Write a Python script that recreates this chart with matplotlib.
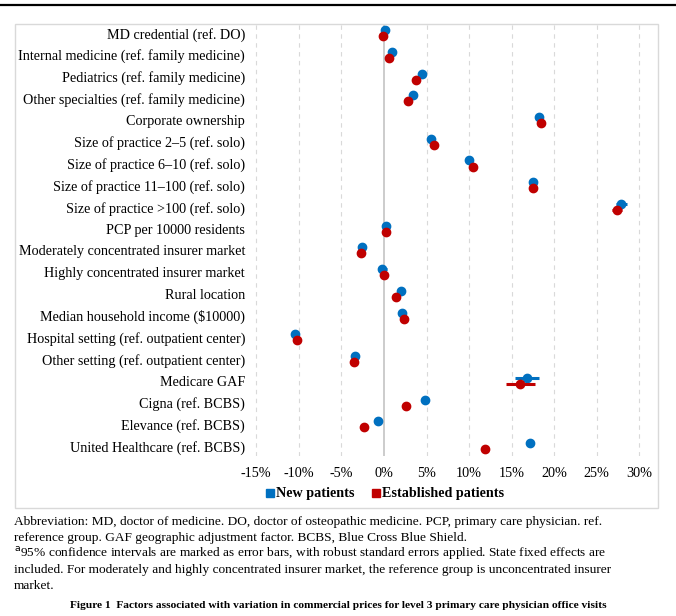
"""
Factors associated with variation in commercial prices for level 3
primary care physician office visits (dot plot with 95% CI).
"""
import matplotlib
matplotlib.use('Agg')
import matplotlib.pyplot as plt
from matplotlib.lines import Line2D
from matplotlib.patches import Rectangle
from matplotlib.ticker import FuncFormatter

plt.rcParams['font.family'] = ['Liberation Serif', 'DejaVu Serif']

categories = [
    'MD credential (ref. DO)',
    'Internal medicine (ref. family medicine)',
    'Pediatrics (ref. family medicine)',
    'Other specialties (ref. family medicine)',
    'Corporate ownership',
    'Size of practice 2\u20135 (ref. solo)',
    'Size of practice 6\u201310 (ref. solo)',
    'Size of practice 11\u2013100 (ref. solo)',
    'Size of practice >100 (ref. solo)',
    'PCP per 10000 residents',
    'Moderately concentrated insurer market',
    'Highly concentrated insurer market',
    'Rural location',
    'Median household income ($10000)',
    'Hospital setting (ref. outpatient center)',
    'Other setting (ref. outpatient center)',
    'Medicare GAF',
    'Cigna (ref. BCBS)',
    'Elevance (ref. BCBS)',
    'United Healthcare (ref. BCBS)',
]

# point estimates (%)
new_pat = [0.1, 1.0, 4.5, 3.45, 18.2, 5.5, 10.0, 17.55, 27.9, 0.2,
           -2.6, -0.2, 2.0, 2.15, -10.5, -3.4, 16.8, 4.85, -0.65, 17.2]
est_pat = [-0.1, 0.55, 3.75, 2.85, 18.5, 5.85, 10.45, 17.55, 27.4, 0.25,
           -2.65, 0.0, 1.4, 2.4, -10.2, -3.55, 16.0, 2.6, -2.4, 11.9]
# half widths of 95% CI (%)
new_ci = [0.1, 0.1, 0.1, 0.1, 0.1, 0.1, 0.1, 0.1, 0.6, 0.05,
          0.1, 0.5, 0.1, 0.1, 0.1, 0.1, 1.4, 0.1, 0.1, 0.1]
est_ci = [0.1, 0.1, 0.1, 0.1, 0.1, 0.1, 0.1, 0.1, 0.6, 0.05,
          0.1, 0.3, 0.1, 0.1, 0.1, 0.1, 1.7, 0.1, 0.1, 0.1]

xticks = [-15, -10, -5, 0, 5, 10, 15, 20, 25, 30]

blue = '#0070C0'
red = '#C00000'

W, H = 676, 616
fig = plt.figure(figsize=(W / 100, H / 100), dpi=100)

# page rule at top and chart frame
fig.add_artist(Line2D([0, 1], [1 - 5 / H, 1 - 5 / H], color='black', lw=1.6))
fig.add_artist(Rectangle((15 / W, 1 - 508 / H), (658 - 15) / W, (508 - 24) / H,
                         transform=fig.transFigure, fill=False,
                         edgecolor='#d9d9d9', lw=1.0))

x0, x1 = 247.8, 652.1
ax = fig.add_axes([x0 / W, 1 - 456 / H, (x1 - x0) / W, (456 - 24) / H])

rows = list(range(len(categories)))
off = 0.14
ax.errorbar(new_pat, [r - off for r in rows], xerr=new_ci, fmt='o', color=blue,
            ms=6, elinewidth=2.2, capsize=0, zorder=3)
ax.errorbar(est_pat, [r + off for r in rows], xerr=est_ci, fmt='o', color=red,
            ms=6, elinewidth=2.2, capsize=0, zorder=4)

for t in xticks:
    if t == 0:
        ax.axvline(t, color='#c8c8c8', lw=1.3, zorder=1)
    else:
        ax.axvline(t, color='#d9d9d9', lw=0.8, ls=(0, (4, 4)), zorder=1)

ax.set_xlim(-16, 31.5)
ax.set_ylim(len(categories) - 1 + 0.46, -0.42)
ax.set_xticks(xticks)
ax.xaxis.set_major_formatter(FuncFormatter(lambda v, p: f'{v:.0f}%'))
ax.set_yticks(rows)
ax.set_yticklabels(categories)
ax.tick_params(axis='both', length=0, labelsize=10.2, colors='black')
ax.tick_params(axis='y', pad=2)
ax.tick_params(axis='x', pad=8)
for s in ax.spines.values():
    s.set_visible(False)

handles = [Line2D([], [], ls='none', marker='s', ms=5.5, color=blue),
           Line2D([], [], ls='none', marker='s', ms=5.5, color=red)]
fig.legend(handles, ['New patients', 'Established patients'], loc='center',
           bbox_to_anchor=(385 / W, 1 - 494 / H), ncol=2, frameon=False,
           prop={'weight': 'bold', 'size': 10.2}, handlelength=0.6,
           handletextpad=0.15, columnspacing=1.2)

notes = [
    'Abbreviation: MD, doctor of medicine. DO, doctor of osteopathic medicine. '
    'PCP, primary care physician. ref.',
    'reference group. GAF geographic adjustment factor. BCBS, Blue Cross Blue Shield.',
    '$^{\\mathrm{a}}$95% confidence intervals are marked as error bars, with robust '
    'standard errors applied. State fixed effects are',
    'included. For moderately and highly concentrated insurer market, the reference '
    'group is unconcentrated insurer',
    'market.',
]
for i, line in enumerate(notes):
    fig.text(14 / W, 1 - (522 + 16 * i) / H, line, fontsize=9.6,
             ha='left', va='center')

fig.text(338 / W, 1 - 606 / H,
         'Figure 1  Factors associated with variation in commercial prices for '
         'level 3 primary care physician office visits',
         fontsize=8.2, weight='bold', ha='center', va='center')

fig.savefig('out.png', dpi=100)
print('saved')
